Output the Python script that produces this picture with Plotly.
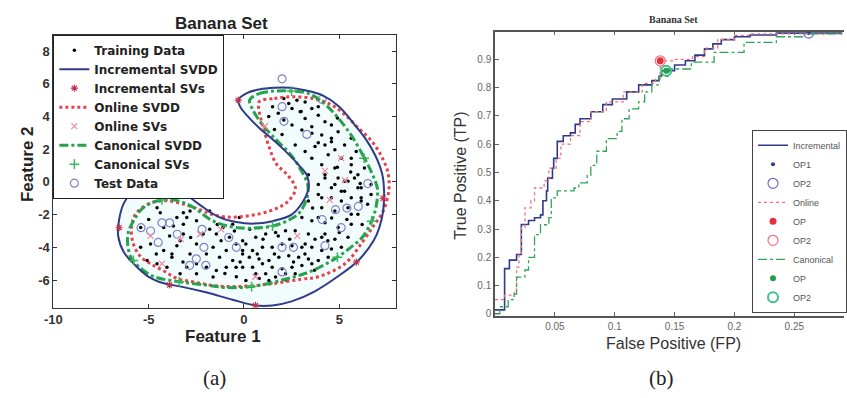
import plotly.graph_objects as go

# ---------------- (a) Banana set ----------------
train_x = [2.09, 2.35, 2.78, 3.21, 2.52, 2.95, 3.56, 3.90, 3.21, 2.09, 4.25, 4.59, 3.56, 3.04, 3.56, 4.08, 4.59, 4.94,
           4.25, 3.73, 4.77, 4.42, 3.56, 5.11, 4.08, 4.77, 5.63, 4.25, 4.94, 5.46, 5.98, 6.32, 5.63, 3.38, 3.90, 4.59,
           5.28, 5.98, 6.67, 4.08, 5.11, 6.15, 4.59, 5.28, 5.63, 2.52, 2.69, 3.21, 5.89, 6.32,
           1.5, 1.8, 1.6, 2.0, 1.3,
           4.25, 4.77, 5.28, 5.80, 3.90, 4.59, 5.11, 5.63, 6.15, 3.38, 4.08, 4.77, 5.46, 5.98, 6.49, 3.04, 3.56, 4.25,
           4.94, 5.63, 2.69, 3.38, 4.08, 4.77, 5.46, 2.18, 1.66, 1.14, 0.62, 0.10, -0.07, 0.45, 0.97, 1.48, 2.00, 2.52,
           3.04, 3.56, 4.08, 4.59, 5.11, 0.28, 0.79, 1.31, 1.83, 2.35, 2.87, 3.38, 3.90, 4.42, -0.07, 0.45, 0.97, 1.48,
           2.00, 2.52, 3.04, 3.56, 0.62, 1.14, 1.66, 2.18, 0.10, 1.31, 2.69, 3.21, 3.73, 4.25, 3.90, 5.63, 6.15, 6.67,
           -4.56, -4.39, -3.52, -3.18, -2.83, -3.70, -3.18, -3.35, -3.52, -3.78, -3.78, -3.18, -2.49, -2.14, -1.80,
           -1.45, -1.10, -0.76, -0.41, -0.07, -1.62, -1.97, -1.28, -0.93, -0.59, -2.49, -1.97, -1.45, -3.00, -4.04,
           -4.56, -5.08, -5.42, -4.90, -4.21, -2.83, -0.93, -0.41, -0.07, -5.42, -3.00, -2.49, -1.80, -1.10, -0.59,
           -0.24, -4.21, -1.62, -2.49, -3.35,
           -0.5, 0.3, 1.0, 1.8, 2.4, -1.2, -0.2, 0.7, 1.6, 2.6, 3.2, 3.7, 4.4, 5.0, 5.4, 6.2, 4.6, 3.6, -1.0, -0.4,
           0.8, 2.2, -2.8, -3.9, -4.6, -5.0, -3.2, -1.4, 4.9, 5.6, 6.1, 3.9, 4.9, 3.0, 3.9]
train_y = [5.09, 4.79, 4.99, 4.89, 4.49, 4.28, 4.49, 4.08, 3.88, 3.78, 3.68, 3.48, 3.37, 3.17, 2.97, 2.87, 2.67, 3.07,
           2.26, 2.16, 1.96, 1.66, 1.45, 1.45, 1.05, 0.85, 1.05, 0.44, 0.24, 0.04, 0.44, 0.85, 1.45, 0.44, -0.16, -0.36,
           -0.57, -0.36, -0.16, -0.97, -1.17, -0.97, 2.46, 2.26, 2.67, 3.48, 2.26, 1.86, 1.86, 1.45,
           4.6, 4.2, 3.2, 2.9, 4.0,
           0.24, -0.16, 0.04, 0.24, -0.77, -0.97, -0.57, -0.97, -0.36, -1.17, -1.58, -1.78, -1.58, -1.98, -1.37, -2.18,
           -2.38, -2.49, -2.79, -2.59, -2.99, -3.19, -3.39, -3.50, -3.39, -2.99, -3.09, -3.19, -3.39, -3.80, -4.20,
           -4.20, -4.00, -4.00, -3.80, -3.90, -4.00, -4.00, -4.20, -4.10, -4.00, -4.61, -4.71, -4.81, -4.61, -4.51,
           -4.61, -4.71, -4.81, -4.61, -5.21, -5.21, -5.01, -5.21, -5.31, -5.21, -5.11, -5.01, -5.62, -5.62, -5.82,
           -5.62, -6.02, -6.02, -5.62, -3.80, -3.50, -3.19, -2.18, -1.98, -1.17, -0.77,
           -1.58, -1.88, -2.18, -1.88, -1.78, -2.69, -2.59, -3.60, -3.90, -4.40, -4.61, -3.19, -3.80, -3.19, -2.89,
           -3.19, -2.79, -3.39, -3.80, -3.60, -4.00, -4.40, -4.61, -4.20, -4.81, -5.01, -5.21, -5.42, -5.21, -5.21,
           -5.01, -4.81, -4.00, -3.80, -4.20, -4.40, -5.21, -5.21, -4.40, -2.79, -2.18, -2.38, -1.78, -2.18, -2.59,
           -2.18, -2.79, -5.82, -5.62, -5.62,
           -3.0, -2.9, -3.5, -3.3, -3.5, -3.6, -4.9, -4.4, -4.4, -4.9, -4.4, -5.4, -3.6, -3.1, -2.3, -2.6, -2.2, -1.6,
           -5.6, -5.8, -5.9, -6.0, -3.4, -3.3, -4.4, -2.3, -4.9, -2.6, 0.9, 0.6, -0.1, 2.4, 3.9, 4.3, 4.6]

inc_svdd_x = [-0.3, 0.2, 0.8, 1.6, 2.4, 3.2, 4.1, 5.0, 5.8, 6.4, 6.9, 7.25, 7.35, 7.3, 7.1, 6.8, 6.0, 4.9, 3.7,
              2.5, 1.5, 0.6, -0.6, -2.0, -3.3, -4.2, -5.0, -5.7, -6.3, -6.6, -6.55, -6.3, -5.8, -5.2, -4.6, -3.8,
              -3.0, -2.2, -1.3, -0.4, 0.5, 1.5, 2.5, 3.1, 3.4, 3.3, 2.9, 2.2, 1.5, 0.8, 0.2, -0.2, -0.3]
inc_svdd_y = [5.0, 5.45, 5.65, 5.75, 5.75, 5.6, 5.3, 4.6, 3.5, 2.6, 1.6, 0.5, -0.5, -1.8, -2.8, -3.6, -4.8, -5.8, -6.7,
              -7.3, -7.55, -7.55, -7.2, -6.75, -6.4, -6.2, -5.8, -5.1, -4.3, -3.3, -2.3, -1.3, -0.5, -0.05, 0.05, -0.2,
              -0.8, -1.5, -2.15, -2.45, -2.55, -2.4, -2.0, -1.2, -0.3, 0.4, 1.0, 1.85, 2.6, 3.3, 4.0, 4.6, 5.0]

onl_svdd_x = [0.8, 1.6, 2.5, 3.6, 4.6, 5.3, 6.0, 6.7, 7.2, 7.55, 7.6, 7.3, 6.85, 6.2, 5.3, 3.9, 3.0, 1.3, -0.4, -1.5,
              -2.5, -3.5, -4.2, -4.9, -5.4, -5.8, -5.9, -5.7, -5.1, -4.2, -3.2, -2.2, -1.5, -0.4, 1.3, 2.3, 2.7, 2.3,
              1.7, 1.3, 1.0, 0.8, 0.8]
onl_svdd_y = [4.9, 5.1, 5.2, 5.1, 4.7, 4.1, 3.3, 2.5, 1.6, 0.6, -0.5, -1.8, -2.6, -3.7, -5.0, -5.8, -5.95, -6.25, -6.4,
              -6.35, -6.15, -5.9, -5.45, -5.0, -4.6, -3.8, -2.8, -2.0, -1.4, -1.15, -1.35, -1.75, -2.05, -2.15, -1.8,
              -1.2, -0.4, 0.4, 1.1, 2.2, 3.4, 4.3, 4.9]

can_svdd_x = [0.3, 0.8, 1.6, 2.5, 3.4, 4.2, 4.8, 5.6, 6.3, 6.8, 7.0, 6.95, 6.7, 6.2, 5.6, 4.9, 4.0, 3.2, 2.0, 0.4,
              -1.0, -2.0, -3.4, -4.7, -5.5, -5.9, -6.1, -6.05, -5.8, -5.4, -4.9, -4.3, -3.7, -3.1, -2.6, -1.6, -0.3,
              1.5, 2.4, 2.9, 3.3, 3.35, 3.0, 2.5, 1.5, 0.9, 0.47, 0.3]
can_svdd_y = [5.0, 5.4, 5.55, 5.55, 5.4, 4.8, 4.1, 2.9, 1.5, 0.3, -0.4, -1.4, -2.4, -3.4, -4.0, -4.6, -5.2, -5.6, -6.0,
              -6.4, -6.45, -6.3, -6.1, -5.8, -5.2, -4.7, -3.8, -3.0, -2.4, -1.7, -1.3, -1.1, -1.1, -1.3, -1.6, -2.4,
              -2.8, -2.7, -2.3, -1.9, -1.0, -0.2, 0.7, 1.6, 2.8, 3.6, 4.4, 5.0]

inc_sv_x = [-0.3, -4.9, -6.55, -3.9, 0.6, 7.3, 5.9]
inc_sv_y = [5.0, 0.06, -2.8, -6.3, -7.55, -1.0, -4.9]
onl_sv_x = [5.1, 4.25, 5.3, 1.1, -3.3, -2.3, -4.9, 2.8, 4.5, -1.2, 0.6, -4.3]
onl_sv_y = [1.45, 0.67, 0.1, 3.4, -3.5, -3.2, -3.3, -3.3, -1.1, -2.9, -5.8, -5.0]
can_sv_x = [-5.8, -3.4, 0.4, 4.9, 6.7, 6.3, 1.5, 2.5, -4.3]
can_sv_y = [-4.8, -6.1, -6.4, -4.6, -2.4, 1.45, -2.7, 5.55, -1.1]

test_x = [-5.4, -5.4, -4.9, -4.5, -4.3, -3.9, -3.5, -2.85, -2.5, -2.1, -2.2, -2.0, -0.4, -0.8, 2.0, 2.6, 2.0, 4.25,
          5.1, 4.1, 4.8, 5.4, 6.5, 6.0, 2.0, 2.0, 2.1, 3.3, 4.1]
test_y = [-0.7, -2.8, -3.0, -3.7, -2.5, -2.5, -3.2, -5.1, -4.7, -4.0, -2.9, -5.1, -4.0, -3.4, -5.5, -4.0, -4.0, -3.9,
          -2.8, -2.3, -1.7, -1.6, -0.1, -1.5, 6.3, 4.6, 3.7, 2.9, 5.05]

a_xticks = [-10, -5, 0, 5]
a_xticktext = ["-10", "-5", "0", "5"]
a_yticks = [-6, -4, -2, 0, 2, 4, 6, 8]
a_yticktext = ["-6", "-4", "-2", "0", "2", "4", "6", "8"]

# ---------------- (b) ROC curves ----------------
inc_fp = [0, 0.008, 0.008, 0.012, 0.018, 0.022, 0.028, 0.033, 0.038, 0.040, 0.043, 0.044, 0.048, 0.049, 0.052, 0.057,
          0.063, 0.067, 0.071, 0.080, 0.090, 0.098, 0.110, 0.120, 0.131, 0.137, 0.139, 0.150, 0.159, 0.167, 0.175,
          0.182, 0.189, 0.200, 0.213, 0.235, 0.262, 0.29]
inc_tp = [0.014, 0.035, 0.16, 0.19, 0.21, 0.316, 0.33, 0.34, 0.35, 0.40, 0.435, 0.48, 0.515, 0.55, 0.61, 0.63, 0.64,
          0.67, 0.69, 0.715, 0.74, 0.76, 0.785, 0.81, 0.825, 0.84, 0.86, 0.88, 0.895, 0.915, 0.937, 0.955, 0.97, 0.98,
          0.986, 0.993, 0.993, 0.993]
onl_fp = [0, 0.008, 0.016, 0.018, 0.020, 0.022, 0.025, 0.030, 0.033, 0.041, 0.045, 0.051, 0.055, 0.063, 0.071, 0.080,
          0.093, 0.107, 0.123, 0.134, 0.138, 0.150, 0.165, 0.175, 0.186, 0.200, 0.213, 0.29]
onl_tp = [0.05, 0.066, 0.083, 0.165, 0.21, 0.305, 0.375, 0.40, 0.445, 0.47, 0.515, 0.55, 0.60, 0.63, 0.68, 0.715, 0.75,
          0.785, 0.815, 0.83, 0.895, 0.90, 0.91, 0.94, 0.97, 0.985, 0.99, 0.99]
can_fp = [0, 0.004, 0.011, 0.016, 0.018, 0.025, 0.028, 0.033, 0.038, 0.045, 0.047, 0.052, 0.066, 0.070, 0.077, 0.080,
          0.085, 0.093, 0.102, 0.106, 0.112, 0.120, 0.125, 0.131, 0.137, 0.145, 0.164, 0.183, 0.208, 0.235, 0.257, 0.29]
can_tp = [0.0, 0.025, 0.05, 0.07, 0.13, 0.155, 0.20, 0.28, 0.315, 0.34, 0.41, 0.435, 0.445, 0.463, 0.49, 0.525, 0.575,
          0.62, 0.645, 0.69, 0.725, 0.75, 0.785, 0.81, 0.84, 0.866, 0.89, 0.925, 0.96, 0.98, 0.99, 0.99]
inc_op = (0.262, 0.993)
onl_op = (0.138, 0.895)
can_op = (0.143, 0.86)

b_xticks = [0.05, 0.1, 0.15, 0.2, 0.25]
b_xticktext = ["0.05", "0.1", "0.15", "0.2", "0.25"]
b_yticks = [0, 0.1, 0.2, 0.3, 0.4, 0.5, 0.6, 0.7, 0.8, 0.9]
b_yticktext = ["0", "0.1", "0.2", "0.3", "0.4", "0.5", "0.6", "0.7", "0.8", "0.9"]

NAVY = "#2f3a8a"
RED = "#e6404a"
GREEN = "#26a24c"
SANS = "Liberation Sans, Arial, sans-serif"
SERIF = "Liberation Serif, Times New Roman, serif"

fig = go.Figure()

# left panel
fig.add_trace(go.Scatter(x=inc_svdd_x, y=inc_svdd_y, mode="lines", fill="toself",
                         fillcolor="rgba(215,244,250,0.3)", line=dict(width=0, shape="spline"),
                         showlegend=False, hoverinfo="skip", xaxis="x", yaxis="y"))
fig.add_trace(go.Scatter(x=train_x, y=train_y, mode="markers", name="Training Data",
                         marker=dict(color="black", size=3.5), legend="legend", legendrank=1,
                         xaxis="x", yaxis="y"))
fig.add_trace(go.Scatter(x=test_x, y=test_y, mode="markers", name="Test Data",
                         marker=dict(symbol="circle-open", color="#7f83c9", size=8, line=dict(width=1.2)),
                         legend="legend", legendrank=8, xaxis="x", yaxis="y"))
fig.add_trace(go.Scatter(x=onl_svdd_x, y=onl_svdd_y, mode="lines", name="Online SVDD",
                         line=dict(color=RED, width=3, dash="dot", shape="spline"),
                         legend="legend", legendrank=4, xaxis="x", yaxis="y"))
fig.add_trace(go.Scatter(x=can_svdd_x, y=can_svdd_y, mode="lines", name="Canonical SVDD",
                         line=dict(color=GREEN, width=3, dash="dashdot", shape="spline"),
                         legend="legend", legendrank=6, xaxis="x", yaxis="y"))
fig.add_trace(go.Scatter(x=inc_svdd_x, y=inc_svdd_y, mode="lines", name="Incremental SVDD",
                         line=dict(color=NAVY, width=2, shape="spline"),
                         legend="legend", legendrank=2, xaxis="x", yaxis="y"))
fig.add_trace(go.Scatter(x=inc_sv_x, y=inc_sv_y, mode="markers", name="Incremental SVs",
                         marker=dict(symbol="asterisk-open", color="#c0304a", size=6, line=dict(width=1.1, color="#c0304a")),
                         legend="legend", legendrank=3, xaxis="x", yaxis="y"))
fig.add_trace(go.Scatter(x=onl_sv_x, y=onl_sv_y, mode="markers", name="Online SVs",
                         marker=dict(symbol="x-thin-open", color="#ec8aa0", size=6, line=dict(width=1.2, color="#ec8aa0")),
                         legend="legend", legendrank=5, xaxis="x", yaxis="y"))
fig.add_trace(go.Scatter(x=can_sv_x, y=can_sv_y, mode="markers", name="Canonical SVs",
                         marker=dict(symbol="cross-thin-open", color="#3cb85a", size=7, line=dict(width=1.5, color="#3cb85a")),
                         legend="legend", legendrank=7, xaxis="x", yaxis="y"))

# right panel
fig.add_trace(go.Scatter(x=inc_fp, y=inc_tp, mode="lines", name="Incremental",
                         line=dict(color=NAVY, width=1.6, shape="hv"), legend="legend2", xaxis="x2", yaxis="y2"))
fig.add_trace(go.Scatter(x=[inc_op[0]], y=[inc_op[1]], mode="markers", name="OP1",
                         marker=dict(color=NAVY, size=4), legend="legend2", xaxis="x2", yaxis="y2"))
fig.add_trace(go.Scatter(x=[inc_op[0]], y=[inc_op[1]], mode="markers", name="OP2",
                         marker=dict(symbol="circle-open", color="#6a70c0", size=10, line=dict(width=1.2)),
                         legend="legend2", xaxis="x2", yaxis="y2"))
fig.add_trace(go.Scatter(x=onl_fp, y=onl_tp, mode="lines", name="Online",
                         line=dict(color="#f0707c", width=1.3, dash="dot", shape="hv"), legend="legend2",
                         xaxis="x2", yaxis="y2"))
fig.add_trace(go.Scatter(x=[onl_op[0]], y=[onl_op[1]], mode="markers", name="OP",
                         marker=dict(color="#e8303c", size=7), legend="legend2", xaxis="x2", yaxis="y2"))
fig.add_trace(go.Scatter(x=[onl_op[0]], y=[onl_op[1]], mode="markers", name="OP2",
                         marker=dict(symbol="circle-open", color="#f07080", size=10, line=dict(width=1.2)),
                         legend="legend2", xaxis="x2", yaxis="y2"))
fig.add_trace(go.Scatter(x=can_fp, y=can_tp, mode="lines", name="Canonical",
                         line=dict(color="#30a458", width=1.3, dash="dashdot", shape="hv"), legend="legend2",
                         xaxis="x2", yaxis="y2"))
fig.add_trace(go.Scatter(x=[can_op[0]], y=[can_op[1]], mode="markers", name="OP",
                         marker=dict(color="#22a048", size=6), legend="legend2", xaxis="x2", yaxis="y2"))
fig.add_trace(go.Scatter(x=[can_op[0]], y=[can_op[1]], mode="markers", name="OP2",
                         marker=dict(symbol="circle-open", color="#40c090", size=10, line=dict(width=2)),
                         legend="legend2", xaxis="x2", yaxis="y2"))

W, H = 847, 398
def px(v):
    return v / W
def py(v):
    return 1 - v / H

axis_a = dict(showgrid=False, zeroline=False, showline=True, mirror="ticks", linecolor="#333", linewidth=1,
              ticks="inside", ticklen=4, tickcolor="#333",
              tickfont=dict(family=SANS, size=13, color="#333", weight="bold"))
axis_b = dict(showgrid=False, zeroline=False, showline=True, linecolor="#555", linewidth=1.5,
              ticks="inside", ticklen=4, tickcolor="#666",
              tickfont=dict(family=SANS, size=10, color="#666"))

fig.update_layout(
    width=W, height=H, margin=dict(l=0, r=0, t=0, b=0),
    paper_bgcolor="white", plot_bgcolor="white",
    xaxis=dict(domain=[px(45), px(393)], range=[-10, 8], tickvals=a_xticks, ticktext=a_xticktext, anchor="y", **axis_a),
    yaxis=dict(domain=[py(311), py(35)], range=[-7.7, 9], tickvals=a_yticks, ticktext=a_yticktext, anchor="x", **axis_a),
    xaxis2=dict(domain=[px(493), 1.0], range=[0, 0.2915], tickvals=b_xticks, ticktext=b_xticktext, anchor="y2",
                mirror="ticks", **axis_b),
    yaxis2=dict(domain=[py(319), py(32)], range=[-0.007, 0.998], tickvals=b_yticks, ticktext=b_yticktext,
                anchor="x2", mirror=False, **axis_b),
    legend=dict(x=px(45), y=py(35), xanchor="left", yanchor="top", bgcolor="white", bordercolor="#222",
                borderwidth=1, font=dict(family="DejaVu Sans, sans-serif", size=12, color="#222", weight="bold"),
                tracegroupgap=0, itemwidth=30),
    legend2=dict(x=px(754), y=py(316), xanchor="left", yanchor="bottom", bgcolor="white", bordercolor="#444",
                 borderwidth=1, font=dict(family=SANS, size=9, color="#555"), tracegroupgap=0, itemwidth=30),
    showlegend=True,
)

ann = [
    dict(text="<b>Banana Set</b>", x=px(216), y=py(24), font=dict(family=SANS, size=17, color="#222")),
    dict(text="<b>Feature 1</b>", x=px(217), y=py(340), font=dict(family=SANS, size=17, color="#222")),
    dict(text="<b>Feature 2</b>", x=px(19), y=py(166), textangle=-90, font=dict(family=SANS, size=17, color="#222")),
    dict(text="(a)", x=px(208), y=py(382), font=dict(family=SERIF, size=21, color="#222")),
    dict(text="<b>Banana Set</b>", x=px(674), y=py(20), font=dict(family=SERIF, size=10, color="#333")),
    dict(text="True Positive (TP)", x=px(458), y=py(178), textangle=-90, font=dict(family=SANS, size=16, color="#333")),
    dict(text="False Positive (FP)", x=px(674), y=py(347), font=dict(family=SANS, size=16, color="#333")),
    dict(text="(b)", x=px(662), y=py(382), font=dict(family=SERIF, size=21, color="#222")),
]
for a in ann:
    a.update(xref="paper", yref="paper", showarrow=False, xanchor="center", yanchor="middle")
fig.update_layout(annotations=ann)

fig.write_html("out.html")
